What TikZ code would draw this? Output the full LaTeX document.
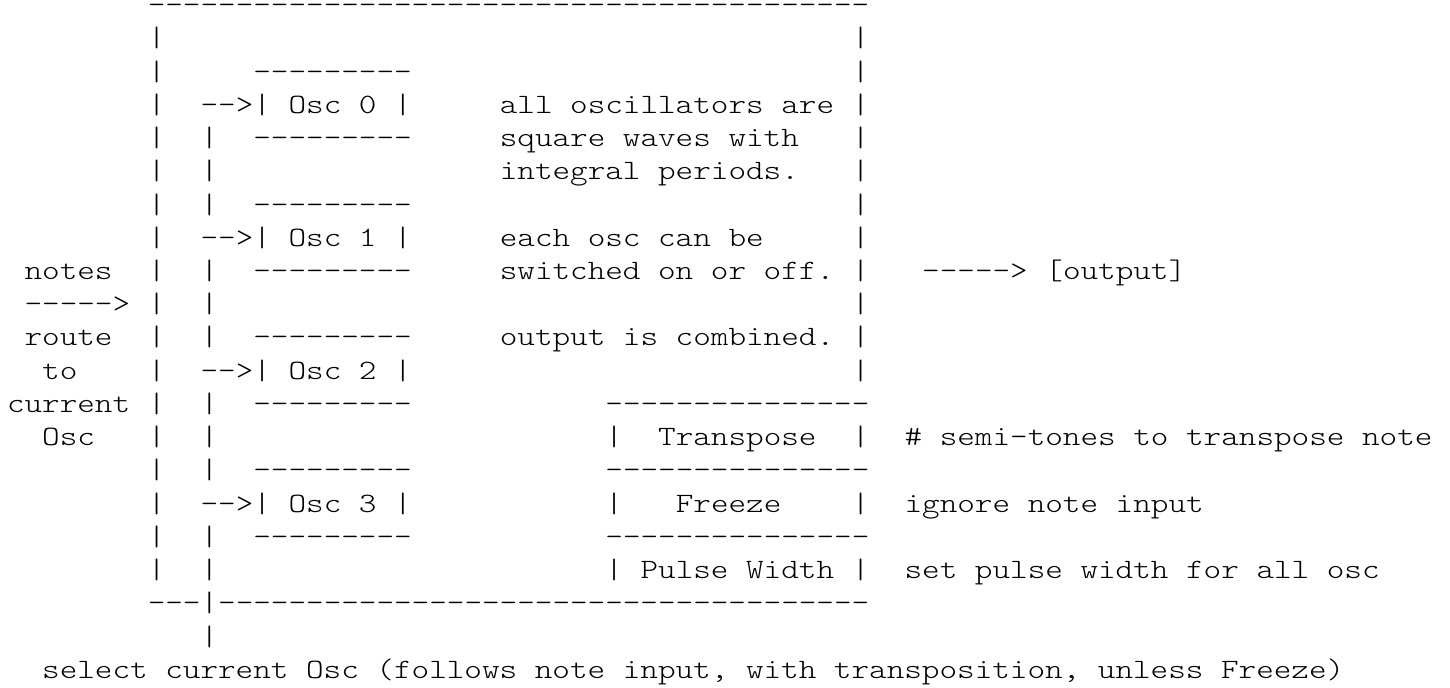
\documentclass[tikz,border=0pt]{standalone}
\usepackage{fontspec}
\setmonofont{lmmonolt10-regular.otf}[FakeStretch=1.197]
\frenchspacing
\tikzset{
  asc/.style={anchor=base west, inner sep=0pt, outer sep=0pt,
    font=\ttfamily\fontsize{14pt}{16.5pt}\selectfont, text=black}
}
\newcommand{\seg}[4]{\node[asc] (#1) at ({3.5pt+8.8pt*(#2)},{-6.8pt-16.62pt*(#3)}) {#4};}
\begin{document}
\begin{tikzpicture}
\fill[white] (0,0) rectangle (725pt,-344pt);
\useasboundingbox (0,0) rectangle (725pt,-344pt);
% outer frame
\seg{top}{8}{0}{-----------------------------------------}
\foreach \r in {1,...,17} {\seg{lb\r}{8}{\r}{|}}
\foreach \r in {1,...,11} {\seg{rb\r}{48}{\r}{|}}
\seg{bot}{8}{18}{---|-------------------------------------}
\seg{sel}{11}{19}{|}
% inner routing bus
\foreach \r in {4,5,6,8,9,10,12,13,14,16,17} {\seg{bus\r}{11}{\r}{|}}
% oscillator boxes
\foreach \i/\r in {0/3,1/7,2/11,3/15} {
  \seg{osctop\i}{14}{\r-1}{---------}
  \seg{arr\i}{11}{\r}{-->}
  \seg{osc\i}{14}{\r}{| Osc \i\ |}
  \seg{oscbot\i}{14}{\r+1}{---------}
}
% description
\seg{d1}{28}{3}{all oscillators are}
\seg{d2}{28}{4}{square waves with}
\seg{d3}{28}{5}{integral periods.}
\seg{d4}{28}{7}{each osc can be}
\seg{d5}{28}{8}{switched on or off.}
\seg{d6}{28}{10}{output is combined.}
% output
\seg{outarr}{52}{8}{----->}
\seg{out}{59}{8}{[output]}
% notes input
\seg{n1}{1}{8}{notes}
\seg{n2}{1}{9}{----->}
\seg{n3}{1}{10}{route}
\seg{n4}{2}{11}{to}
\seg{n5}{0}{12}{current}
\seg{n6}{2}{13}{Osc}
% control boxes
\seg{c0}{34}{12}{---------------}
\seg{tl}{34}{13}{|}
\seg{tr}{37}{13}{Transpose}
\seg{trr}{48}{13}{|}
\seg{c1}{34}{14}{---------------}
\seg{fl}{34}{15}{|}
\seg{fr}{38}{15}{Freeze}
\seg{frr}{48}{15}{|}
\seg{c2}{34}{16}{---------------}
\seg{pl}{34}{17}{|}
\seg{pw}{36}{17}{Pulse Width}
\seg{pwr}{48}{17}{|}
\seg{e1}{51}{13}{\# semi-tones to transpose note}
\seg{e2}{51}{15}{ignore note input}
\seg{e3}{51}{17}{set pulse width for all osc}
% select line
\seg{selt}{2}{20}{select current Osc (follows note input, with transposition, unless Freeze)}
\end{tikzpicture}
\end{document}
